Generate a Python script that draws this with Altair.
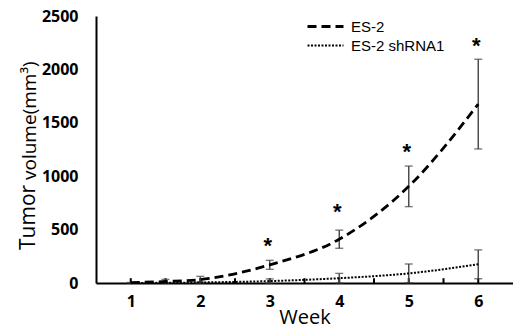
import altair as alt
import pandas as pd

# ---- data ----
series_names = ["ES-2", "ES-2 shRNA1"]
weeks_es2 = [1, 1.5, 2, 3, 4, 5, 6]
mean_es2 = [3, 14, 32, 170, 410, 905, 1675]
err_es2 = [2, 20, 30, 42, 85, 190, 420]
weeks_sh = [1, 2, 3, 4, 5, 6]
mean_sh = [0, 5, 18, 45, 90, 175]
err_sh = [0, 4, 20, 45, 88, 135]
star_weeks = [3, 4, 5, 6]
star_vals = [395, 712, 1276, 2270]
week_labels = [1, 2, 3, 4, 5, 6]
minor_ticks = [1, 1.5, 2, 2.5, 3, 3.5, 4, 4.5, 5, 5.5, 6]
y_ticks = [0, 500, 1000, 1500, 2000, 2500]

rows = []
for w, m, e in zip(weeks_es2, mean_es2, err_es2):
    rows.append({"series": series_names[0], "week": w, "mean": m, "lo": max(m - e, 0), "hi": m + e, "err": e})
for w, m, e in zip(weeks_sh, mean_sh, err_sh):
    rows.append({"series": series_names[1], "week": w, "mean": m, "lo": max(m - e, 0), "hi": m + e, "err": e})
df = pd.DataFrame(rows)
err_df = df[df["err"] > 0]
caps = pd.concat([
    err_df[["week", "lo"]].rename(columns={"lo": "v"}),
    err_df[["week", "hi"]].rename(columns={"hi": "v"}),
])
stars = pd.DataFrame({"week": star_weeks, "v": star_vals, "t": ["*"] * len(star_weeks)})
ticks = pd.DataFrame({"week": minor_ticks, "lo": [0] * len(minor_ticks), "hi": [45] * len(minor_ticks)})

LABEL_FONT = "Open Sans"

xscale = alt.Scale(domain=[0.5, 6.5], nice=False, zero=False)
yscale = alt.Scale(domain=[0, 2500], nice=False)
xaxis = alt.Axis(values=week_labels, format="d", title="Week", grid=False, ticks=False,
                 domainColor="black", domainWidth=2, labelFont=LABEL_FONT, labelFontSize=16,
                 labelFontWeight="bold", labelColor="black", labelPadding=10,
                 titleFont=LABEL_FONT, titleFontSize=20, titleFontWeight="normal",
                 titleColor="black", titlePadding=-2, labelFlush=False)
yaxis = alt.Axis(values=y_ticks, format="d", title=None, grid=False, ticks=False,
                 domainColor="black", domainWidth=2, labelFont=LABEL_FONT, labelFontSize=16,
                 labelFontWeight="bold", labelColor="black", labelPadding=18)

X = alt.X("week:Q", scale=xscale, axis=xaxis)
Y = alt.Y("mean:Q", scale=yscale, axis=yaxis)

lines = alt.Chart(df).mark_line(color="black", interpolate="monotone").encode(
    x=X, y=Y,
    strokeDash=alt.StrokeDash("series:N",
        scale=alt.Scale(domain=series_names, range=[[9, 5], [2, 1.5]]),
        legend=alt.Legend(title=None, orient="none", legendX=210, legendY=1,
                          symbolType="stroke", symbolSize=1296, symbolStrokeColor="black",
                          symbolStrokeWidth=2, labelFont="Liberation Sans", labelFontSize=15,
                          labelColor="black", clipHeight=19, rowPadding=0, labelOffset=6)),
    strokeWidth=alt.StrokeWidth("series:N", scale=alt.Scale(domain=series_names, range=[2.8, 2]), legend=None),
)

bars = alt.Chart(err_df).mark_rule(color="#444444", strokeWidth=1.4).encode(
    x=alt.X("week:Q", scale=xscale, axis=xaxis),
    y=alt.Y("lo:Q", scale=yscale, axis=yaxis),
    y2="hi:Q",
)
capmarks = alt.Chart(caps).mark_tick(color="#444444", orient="horizontal", size=8, thickness=1.4).encode(
    x=alt.X("week:Q", scale=xscale, axis=xaxis),
    y=alt.Y("v:Q", scale=yscale, axis=yaxis),
)
starmarks = alt.Chart(stars).mark_text(font="Liberation Sans", fontSize=22, fontWeight="bold",
                                       color="black", baseline="alphabetic", dy=12, dx=-2).encode(
    x=alt.X("week:Q", scale=xscale, axis=xaxis),
    y=alt.Y("v:Q", scale=yscale, axis=yaxis),
    text="t:N",
)
tickmarks = alt.Chart(ticks).mark_rule(color="black", strokeWidth=2).encode(
    x=alt.X("week:Q", scale=xscale, axis=xaxis),
    y=alt.Y("lo:Q", scale=yscale, axis=yaxis),
    y2="hi:Q",
)

title1 = alt.Chart(pd.DataFrame({"t": ["Tumor"]})).mark_text(
    font=LABEL_FONT, fontSize=21, angle=270, align="left", baseline="middle", color="black"
).encode(x=alt.value(-67), y=alt.value(234), text="t:N")
title2 = alt.Chart(pd.DataFrame({"t": ["volume(mm³)"]})).mark_text(
    font=LABEL_FONT, fontSize=19, angle=270, align="left", baseline="middle", color="black"
).encode(x=alt.value(-66), y=alt.value(164), text="t:N")

chart = alt.layer(tickmarks, bars, capmarks, lines, starmarks, title1, title2).properties(
    width=417, height=267,
    autosize=alt.AutoSizeParams(type="none"),
    padding={"left": 96, "top": 16, "right": 0, "bottom": 48},
    background="white",
).configure_view(stroke=None)

chart.save("out.html", embed_options={"renderer": "svg", "actions": False})
